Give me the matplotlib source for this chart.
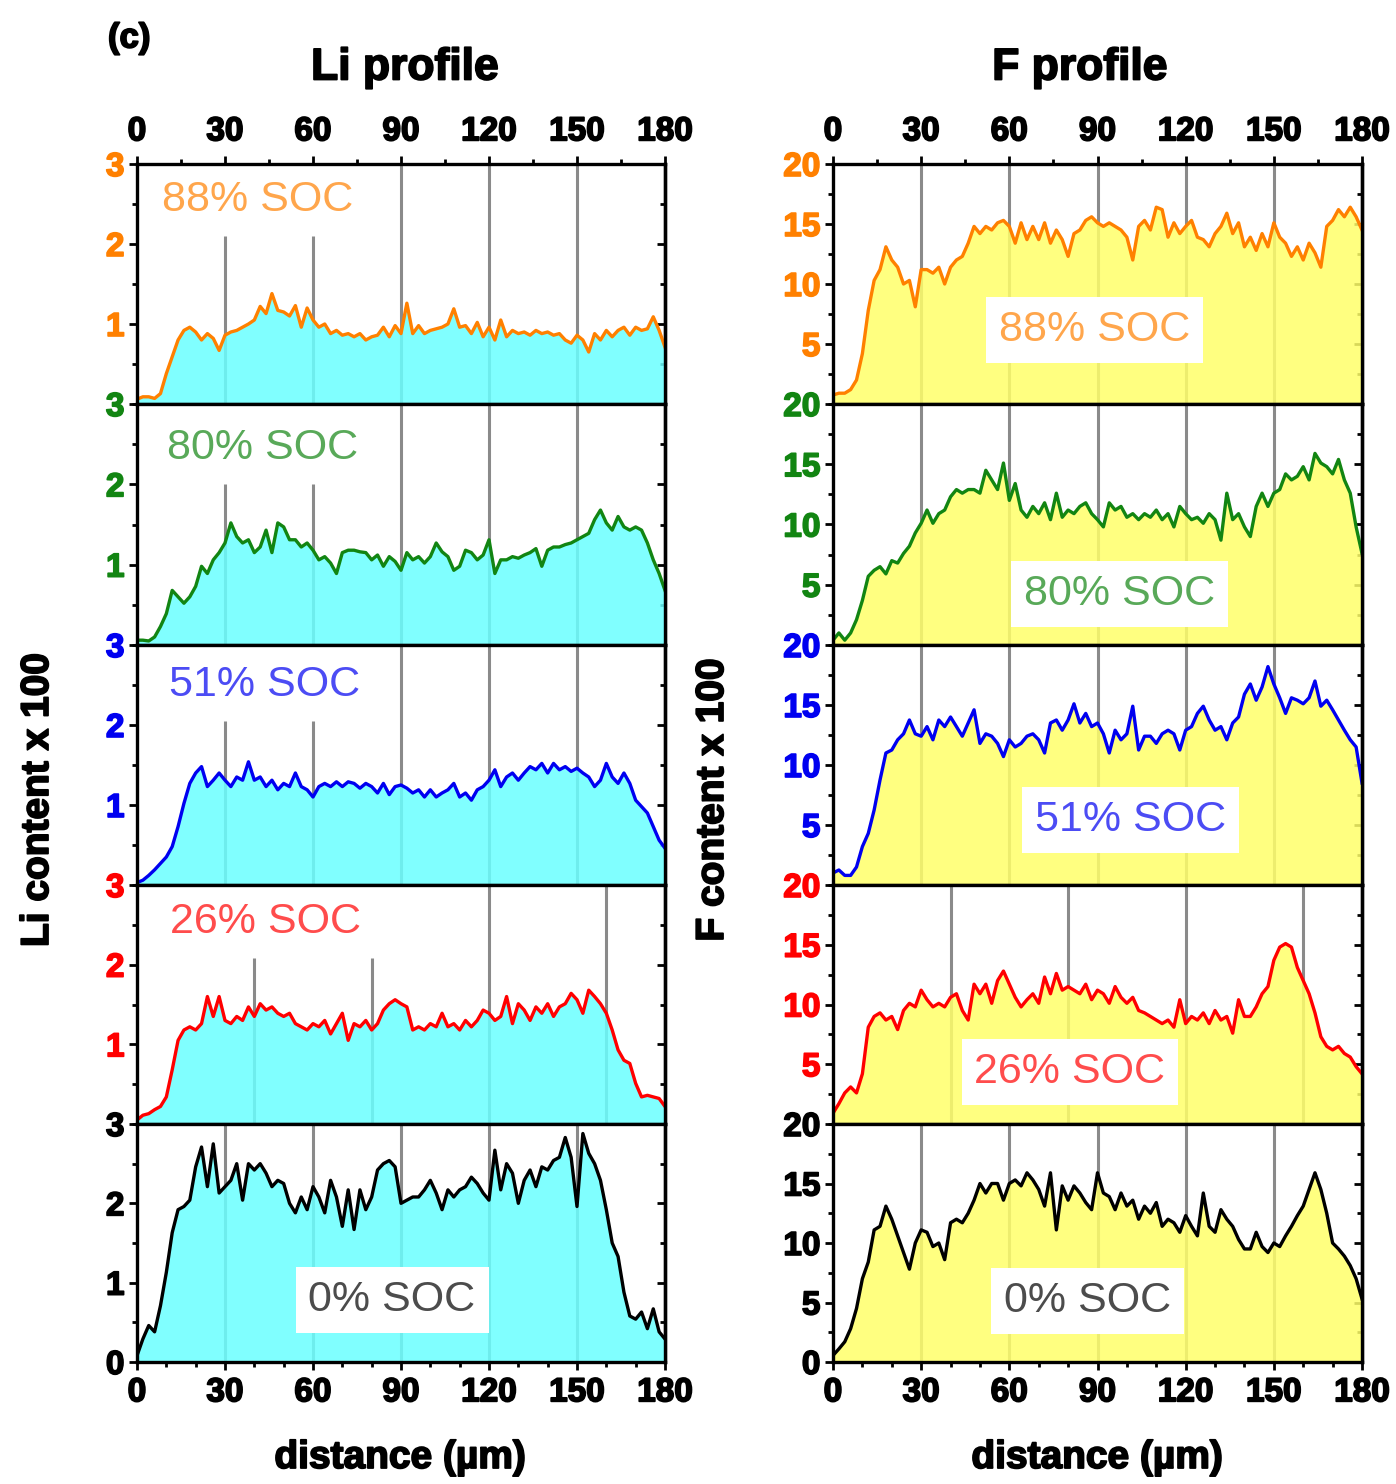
import matplotlib
matplotlib.use('Agg')
import matplotlib.pyplot as plt
import matplotlib.patheffects as pe
from matplotlib.ticker import MultipleLocator
import numpy as np

plt.rcParams['font.family'] = ['Liberation Sans', 'DejaVu Sans']

# distance along the electrode (um), one value every 2 um
dist = np.arange(0, 181, 2)

soc_labels = ['88% SOC', '80% SOC', '51% SOC', '26% SOC', '0% SOC']

# Li content x 100
li_88 = [0.06, 0.09, 0.09, 0.07, 0.13, 0.38, 0.59, 0.80, 0.92, 0.96,
         0.90, 0.80, 0.88, 0.82, 0.67, 0.86, 0.90, 0.92, 0.96, 1.00,
         1.05, 1.22, 1.13, 1.38, 1.17, 1.15, 1.10, 1.23, 0.96, 1.20,
         1.05, 0.96, 1.00, 0.88, 0.92, 0.86, 0.88, 0.84, 0.88, 0.80,
         0.84, 0.86, 0.96, 0.84, 0.98, 0.88, 1.26, 0.88, 0.98, 0.88,
         0.92, 0.94, 0.96, 1.00, 1.19, 0.96, 0.98, 0.88, 1.02, 0.84,
         0.96, 0.80, 1.05, 0.84, 0.92, 0.88, 0.90, 0.86, 0.92, 0.88,
         0.90, 0.86, 0.88, 0.80, 0.76, 0.86, 0.80, 0.65, 0.88, 0.80,
         0.92, 0.84, 0.92, 0.96, 0.86, 0.96, 0.92, 0.94, 1.09, 0.92,
         0.71]
li_80 = [0.06, 0.06, 0.05, 0.10, 0.23, 0.39, 0.68, 0.60, 0.52, 0.60,
         0.73, 0.98, 0.89, 1.06, 1.15, 1.27, 1.52, 1.35, 1.27, 1.31,
         1.15, 1.22, 1.43, 1.15, 1.52, 1.47, 1.31, 1.31, 1.22, 1.27,
         1.18, 1.06, 1.10, 1.02, 0.89, 1.15, 1.18, 1.18, 1.16, 1.15,
         1.06, 1.12, 0.98, 1.10, 1.04, 0.93, 1.15, 1.06, 1.10, 1.02,
         1.10, 1.27, 1.16, 1.10, 0.93, 0.98, 1.18, 1.15, 1.06, 1.12,
         1.31, 0.89, 1.06, 1.06, 1.10, 1.08, 1.12, 1.15, 1.20, 0.98,
         1.18, 1.22, 1.22, 1.25, 1.27, 1.31, 1.35, 1.39, 1.56, 1.68,
         1.52, 1.43, 1.60, 1.47, 1.43, 1.47, 1.43, 1.27, 1.06, 0.89,
         0.68]
li_51 = [0.03, 0.06, 0.12, 0.19, 0.27, 0.35, 0.48, 0.73, 1.02, 1.27,
         1.40, 1.48, 1.23, 1.31, 1.40, 1.31, 1.23, 1.35, 1.31, 1.54,
         1.31, 1.35, 1.23, 1.31, 1.19, 1.27, 1.23, 1.40, 1.23, 1.19,
         1.10, 1.23, 1.27, 1.23, 1.29, 1.23, 1.29, 1.27, 1.21, 1.27,
         1.23, 1.15, 1.27, 1.13, 1.23, 1.25, 1.21, 1.15, 1.19, 1.10,
         1.19, 1.10, 1.15, 1.19, 1.27, 1.10, 1.15, 1.06, 1.19, 1.23,
         1.31, 1.44, 1.23, 1.35, 1.40, 1.31, 1.40, 1.48, 1.44, 1.52,
         1.40, 1.52, 1.44, 1.48, 1.42, 1.46, 1.40, 1.35, 1.23, 1.31,
         1.52, 1.35, 1.27, 1.40, 1.27, 1.06, 0.98, 0.90, 0.73, 0.56,
         0.46]
li_26 = [0.05, 0.11, 0.13, 0.18, 0.22, 0.34, 0.68, 1.05, 1.18, 1.22,
         1.18, 1.26, 1.60, 1.35, 1.60, 1.30, 1.26, 1.35, 1.30, 1.47,
         1.35, 1.51, 1.43, 1.47, 1.39, 1.35, 1.39, 1.26, 1.22, 1.18,
         1.26, 1.22, 1.30, 1.13, 1.26, 1.39, 1.05, 1.26, 1.22, 1.30,
         1.18, 1.26, 1.43, 1.51, 1.56, 1.51, 1.47, 1.18, 1.22, 1.18,
         1.26, 1.22, 1.39, 1.22, 1.26, 1.18, 1.30, 1.22, 1.30, 1.43,
         1.39, 1.30, 1.35, 1.60, 1.26, 1.51, 1.43, 1.30, 1.47, 1.39,
         1.51, 1.35, 1.47, 1.51, 1.64, 1.56, 1.39, 1.68, 1.60, 1.51,
         1.39, 1.18, 0.93, 0.80, 0.76, 0.51, 0.34, 0.36, 0.34, 0.32,
         0.22]
li_0 = [0.08, 0.29, 0.46, 0.38, 0.71, 1.13, 1.63, 1.92, 1.96, 2.04,
        2.46, 2.71, 2.21, 2.75, 2.13, 2.21, 2.29, 2.50, 2.04, 2.50,
        2.42, 2.50, 2.38, 2.21, 2.29, 2.25, 2.00, 1.88, 2.08, 1.92,
        2.21, 2.08, 1.88, 2.29, 2.08, 1.71, 2.17, 1.67, 2.17, 1.92,
        2.08, 2.42, 2.50, 2.54, 2.46, 2.00, 2.04, 2.08, 2.08, 2.17,
        2.29, 2.13, 1.92, 2.17, 2.08, 2.17, 2.21, 2.33, 2.25, 2.13,
        2.04, 2.67, 2.17, 2.50, 2.38, 2.00, 2.29, 2.42, 2.21, 2.46,
        2.42, 2.54, 2.58, 2.83, 2.58, 1.96, 2.88, 2.63, 2.50, 2.29,
        1.92, 1.50, 1.33, 0.88, 0.58, 0.54, 0.63, 0.42, 0.67, 0.38,
        0.29]

# F content x 100
f_88 = [0.75, 0.9, 0.9, 1.2, 2.0, 4.2, 7.8, 10.3, 11.2, 13.1,
        12.0, 11.4, 10.0, 10.3, 8.1, 11.2, 11.2, 10.9, 11.4, 10.0,
        11.4, 12.0, 12.3, 13.4, 14.8, 14.2, 14.8, 14.5, 15.1, 15.3,
        14.8, 13.4, 15.1, 13.7, 14.8, 13.7, 15.1, 13.4, 14.5, 13.7,
        12.3, 14.2, 14.5, 15.3, 15.6, 15.1, 14.8, 15.1, 14.8, 14.5,
        13.9, 12.0, 14.8, 15.3, 14.5, 16.4, 16.2, 13.9, 15.1, 14.2,
        14.8, 15.3, 13.9, 13.7, 13.1, 14.2, 14.8, 15.9, 14.2, 15.1,
        13.1, 13.9, 12.8, 14.2, 13.1, 15.1, 13.9, 13.4, 12.3, 13.1,
        12.0, 13.4, 12.6, 11.4, 14.8, 15.3, 16.2, 15.6, 16.4, 15.6,
        14.5]
f_80 = [0.4, 1.0, 0.4, 1.0, 2.1, 3.7, 5.7, 6.2, 6.5, 5.9,
        7.0, 6.8, 7.6, 8.2, 9.3, 10.1, 11.2, 10.1, 10.9, 11.2,
        12.3, 12.9, 12.6, 12.9, 12.9, 12.6, 14.5, 13.7, 12.9, 15.1,
        12.0, 13.4, 11.2, 10.6, 11.5, 10.9, 11.8, 10.4, 12.6, 10.6,
        11.2, 10.9, 11.5, 11.8, 10.9, 10.4, 9.8, 11.8, 11.2, 11.5,
        10.6, 10.9, 10.4, 10.9, 10.6, 11.2, 10.4, 10.9, 9.8, 11.5,
        10.9, 10.4, 10.6, 10.1, 10.9, 10.4, 8.7, 12.6, 10.4, 10.9,
        9.8, 9.0, 11.5, 12.6, 11.5, 12.6, 12.9, 14.2, 13.7, 14.0,
        14.8, 13.7, 15.9, 15.1, 14.8, 14.2, 15.4, 13.7, 12.6, 9.8,
        7.6]
f_51 = [1.0, 1.25, 0.8, 0.8, 1.5, 3.2, 4.3, 6.25, 8.75, 11.0,
        11.25, 12.1, 12.6, 13.75, 12.6, 12.4, 13.2, 12.1, 13.75, 13.2,
        14.0, 13.2, 12.4, 13.5, 14.6, 11.8, 12.6, 12.4, 11.8, 10.7,
        12.1, 11.5, 11.8, 12.4, 12.6, 12.1, 11.0, 13.5, 13.75, 12.9,
        13.75, 15.1, 13.5, 14.3, 13.2, 13.5, 12.6, 11.0, 12.9, 12.1,
        12.6, 14.9, 11.25, 12.4, 12.4, 11.8, 12.6, 12.9, 12.6, 11.25,
        12.9, 13.2, 14.3, 14.9, 13.75, 12.9, 13.2, 12.1, 13.5, 14.0,
        15.9, 16.75, 15.4, 16.5, 18.2, 16.75, 15.6, 14.3, 15.6, 15.4,
        15.1, 15.6, 17.0, 14.9, 15.4, 14.6, 13.75, 12.9, 12.1, 11.5,
        8.5]
f_26 = [0.9, 1.7, 2.6, 3.1, 2.6, 4.2, 8.1, 9.0, 9.3, 8.7,
        9.0, 7.9, 9.5, 10.1, 9.8, 11.2, 10.4, 9.8, 10.1, 9.8,
        10.6, 10.9, 9.5, 8.7, 11.7, 10.9, 11.7, 10.1, 12.0, 12.8,
        11.7, 10.6, 9.8, 10.4, 10.9, 10.1, 12.3, 10.9, 12.6, 11.2,
        11.5, 11.2, 10.9, 11.7, 10.4, 11.2, 10.9, 10.1, 11.5, 10.6,
        10.1, 10.6, 9.5, 9.3, 9.0, 8.7, 8.4, 8.7, 8.1, 10.4,
        8.4, 9.0, 8.7, 9.3, 8.4, 9.5, 8.7, 9.0, 7.6, 10.4,
        9.0, 9.0, 9.8, 10.9, 11.5, 13.7, 14.8, 15.1, 14.8, 13.1,
        12.0, 10.9, 9.3, 7.3, 6.5, 6.2, 6.5, 5.9, 5.6, 4.8,
        4.2]
f_0 = [0.55, 1.1, 1.7, 2.8, 4.5, 7.0, 8.4, 11.1, 11.4, 13.1,
       12.0, 10.6, 9.2, 7.8, 10.0, 11.1, 10.9, 9.7, 10.0, 8.6,
       11.7, 12.0, 11.7, 12.5, 13.6, 15.0, 14.2, 15.0, 15.0, 13.6,
       15.0, 15.3, 14.8, 15.9, 15.3, 14.5, 13.1, 15.9, 11.1, 14.8,
       13.6, 14.8, 14.2, 13.4, 12.8, 15.9, 14.2, 13.9, 12.8, 14.2,
       13.1, 13.6, 12.0, 13.1, 12.5, 13.4, 11.4, 12.0, 11.7, 10.9,
       12.3, 11.4, 10.6, 14.2, 11.4, 10.9, 12.8, 12.0, 11.4, 10.3,
       9.5, 9.5, 10.9, 9.7, 9.2, 10.0, 9.7, 10.6, 11.4, 12.3,
       13.1, 14.5, 15.9, 14.5, 12.5, 10.0, 9.5, 8.9, 8.1, 7.0,
       5.3]

# grey guide lines: x position and the level where each one starts
li_guide_x = [[30, 60, 90, 120, 150], [30, 60, 90, 120, 150],
              [30, 60, 90, 120, 150], [40, 80, 120, 160],
              [30, 60, 90, 120, 150]]
li_guide_top = [[2.1, 2.1, 3, 3, 3], [2.0, 2.0, 3, 3, 3],
                [2.05, 2.05, 3, 3, 3], [2.08, 2.08, 3, 3],
                [3, 3, 3, 3, 3]]
f_guide_x = li_guide_x
f_guide_top = [[20] * 5, [20] * 5, [20] * 5, [20] * 4, [20] * 5]

colors = ['#ff8000', '#128512', '#0000f0', '#ff0000', '#000000']

W, H = 1396, 1484
fig = plt.figure(figsize=(W / 100, H / 100), dpi=100)

tops = [164, 404, 645, 885, 1124, 1362]
heavy = [pe.withStroke(linewidth=1.3, foreground='black')]


def add_px_axes(x0, y0, w, h):
    return fig.add_axes([x0 / W, 1 - (y0 + h) / H, w / W, h / H])


def draw_column(x0, width, series, ymax, ystep, fill, gx, gtop, label_pos, boxed):
    for i in range(5):
        ax = add_px_axes(x0, tops[i], width, tops[i + 1] - tops[i])
        c = colors[i]
        y = series[i]
        ax.vlines(gx[i], 0, gtop[i], colors='#8a8a8a', lw=2.2, zorder=1)
        ax.fill_between(dist, 0, y, facecolor=fill, alpha=0.85, lw=0, zorder=2)
        ax.plot(dist, y, color=c, lw=2.4, zorder=3)
        ax.set_xlim(0, 180)
        ax.set_ylim(0, ymax)
        for s in ax.spines.values():
            s.set_linewidth(2.4)
            s.set_zorder(5)

        if i < 4:
            ax.set_yticks(np.arange(ystep, ymax + 0.01, ystep))
        else:
            ax.set_yticks(np.arange(0, ymax + 0.01, ystep))
        ax.yaxis.set_minor_locator(MultipleLocator(ystep / 2))
        ax.tick_params(axis='y', which='both', direction='out', left=True,
                       right=False, labelcolor=c, color='k', width=2, pad=3)
        ax.tick_params(axis='y', which='major', length=6)
        ax.tick_params(axis='y', which='minor', length=3.5)
        for t in ax.get_yticklabels():
            t.set_fontsize(24)
            t.set_fontweight('bold')
            t.set_path_effects([pe.withStroke(linewidth=1.2, foreground=c)])

        sec = ax.secondary_yaxis('right')
        sec.yaxis.set_major_locator(MultipleLocator(ystep))
        sec.yaxis.set_minor_locator(MultipleLocator(ystep / 2))
        sec.tick_params(which='both', direction='in', labelright=False, width=2)
        sec.tick_params(which='major', length=6)
        sec.tick_params(which='minor', length=3.5)
        sec.spines['right'].set_linewidth(2.4)

        ax.set_xticks(np.arange(0, 181, 30))
        if i == 0:
            ax.xaxis.set_minor_locator(MultipleLocator(15))
            ax.tick_params(axis='x', which='both', direction='out', top=True,
                           bottom=False, labeltop=True, labelbottom=False,
                           width=2, pad=6)
        elif i == 4:
            ax.xaxis.set_minor_locator(MultipleLocator(10))
            ax.tick_params(axis='x', which='both', direction='out', top=False,
                           bottom=True, labelbottom=True, width=2, pad=5)
        else:
            ax.tick_params(axis='x', which='both', top=False, bottom=False,
                           labelbottom=False)
        ax.tick_params(axis='x', which='major', length=6)
        ax.tick_params(axis='x', which='minor', length=3.5)
        for t in ax.get_xticklabels():
            t.set_fontsize(24)
            t.set_fontweight('bold')
            t.set_path_effects(heavy)

        tx, ty = label_pos[i]
        kw = dict(transform=ax.transAxes, ha='center', va='center',
                  fontsize=31, color=c, alpha=0.7, zorder=6)
        if boxed[i]:
            kw['bbox'] = dict(boxstyle='square,pad=0.3', facecolor='white',
                              edgecolor='none')
        ax.text(tx, ty, soc_labels[i], **kw)


draw_column(137, 528, [li_88, li_80, li_51, li_26, li_0], 3, 1, '#6affff',
            li_guide_x, li_guide_top,
            [(0.229, 0.85), (0.237, 0.817), (0.242, 0.833), (0.244, 0.846),
             (0.483, 0.26)],
            [False, False, False, False, True])
draw_column(833, 529, [f_88, f_80, f_51, f_26, f_0], 20, 5, '#ffff6a',
            f_guide_x, f_guide_top,
            [(0.495, 0.308), (0.541, 0.2125), (0.563, 0.271), (0.448, 0.217),
             (0.482, 0.256)],
            [True] * 5)

fig.text(108 / W, 1 - 38 / H, '(c)', fontsize=25, fontweight='bold',
         ha='left', va='center', path_effects=heavy)
fig.text(405 / W, 1 - 68 / H, 'Li profile', fontsize=32, fontweight='bold',
         ha='center', va='center', path_effects=heavy)
fig.text(1080 / W, 1 - 68 / H, 'F profile', fontsize=32, fontweight='bold',
         ha='center', va='center', path_effects=heavy)
fig.text(400 / W, 1 - 1458 / H, 'distance (\u00b5m)', fontsize=28,
         fontweight='bold', ha='center', va='center', path_effects=heavy)
fig.text(1097 / W, 1 - 1458 / H, 'distance (\u00b5m)', fontsize=28,
         fontweight='bold', ha='center', va='center', path_effects=heavy)
fig.text(38 / W, 1 - 800 / H, 'Li content x 100', fontsize=28,
         fontweight='bold', ha='center', va='center', rotation=90,
         path_effects=heavy)
fig.text(713 / W, 1 - 800 / H, 'F content x 100', fontsize=28,
         fontweight='bold', ha='center', va='center', rotation=90,
         path_effects=heavy)

fig.savefig('out.png', dpi=100)
